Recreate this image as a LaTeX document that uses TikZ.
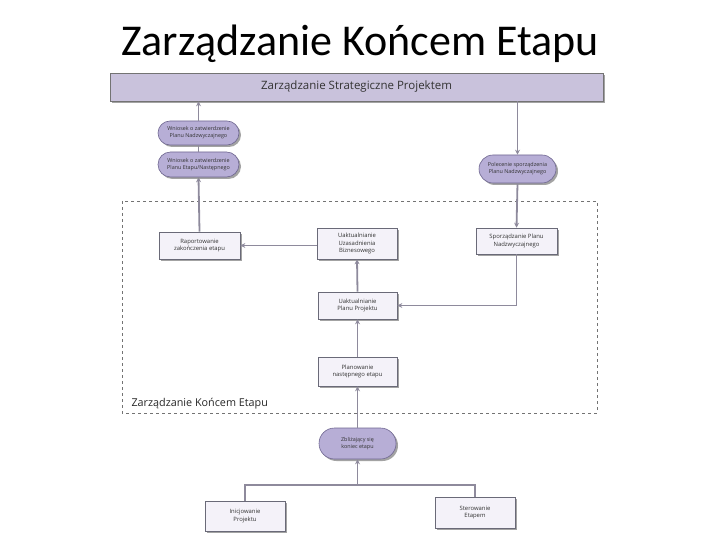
\documentclass[tikz,border=0pt]{standalone}
\usepackage{fontspec}
\setmainfont{Carlito}
\newfontfamily\diag{Open Sans}
\usetikzlibrary{shapes.misc,shadows,arrows.meta}
\definecolor{pillfill}{HTML}{B7AED6}
\definecolor{pilledge}{HTML}{6E6690}
\definecolor{boxfill}{HTML}{F4F2F9}
\definecolor{boxedge}{HTML}{6A6A78}
\definecolor{barfill}{HTML}{C9C2DC}
\definecolor{connc}{HTML}{8E8A9C}
\tikzset{
  shad/.style={drop shadow={shadow xshift=2pt,shadow yshift=-2pt,fill=black!45,opacity=0.8}},
  pill/.style={rounded rectangle,draw=pilledge,line width=0.6pt,fill=pillfill,shad,align=center,
    font=\diag\fontsize{5.4}{7}\selectfont,text=black!80,inner sep=1pt},
  stepbox/.style={rectangle,draw=boxedge,line width=0.6pt,fill=boxfill,shad,align=center,
    font=\diag\fontsize{5.9}{7.6}\selectfont,text=black!80,inner sep=1pt},
  conn/.style={draw=connc,line width=1.8pt},
  arr/.style={conn,-{Stealth[length=5pt,width=5pt]}},
}
\begin{document}
\begin{tikzpicture}[x=1pt,y=-1pt]
\useasboundingbox (0,0) rectangle (720,540);
\node[font=\fontsize{44}{48}\selectfont] (title) at (360,44) {Zarządzanie Końcem Etapu};
\node[rectangle,draw=black!55,line width=0.6pt,fill=barfill,shad,minimum width=493pt,minimum height=28pt,
  font=\diag\fontsize{11.5}{13}\selectfont,text=black!80] (bar) at (356.5,87) {Zarządzanie Strategiczne Projektem};
\draw[dashed,draw=black!55,line width=0.7pt] (122,201) rectangle (597,413);
\node[anchor=west,font=\diag\fontsize{10.8}{13}\selectfont,text=black!85] (lab) at (128,403.5) {Zarządzanie Końcem Etapu};

\node[pill,minimum width=83pt,minimum height=24pt] (w1) at (198.5,133) {Wniosek o zatwierdzenie\\Planu Nadzwyczajnego};
\node[pill,minimum width=83pt,minimum height=25pt] (w2) at (198.5,164.5) {Wniosek o zatwierdzenie\\Planu Etapu/Następnego};
\node[pill,minimum width=79pt,minimum height=28pt] (pol) at (517.5,169) {Polecenie sporządzenia\\Planu Nadzwyczajnego};
\node[stepbox,minimum width=81pt,minimum height=27pt] (rap) at (199.5,245.5) {Raportowanie\\zakończenia etapu};
\node[stepbox,minimum width=80pt,minimum height=31pt] (uzas) at (357,243.5) {Uaktualnianie\\Uzasadnienia\\Biznesowego};
\node[stepbox,minimum width=81pt,minimum height=26pt] (spor) at (516.5,241) {Sporządzanie Planu\\Nadzwyczajnego};
\node[stepbox,minimum width=79pt,minimum height=27pt] (upp) at (357.5,305.5) {Uaktualnianie\\Planu Projektu};
\node[stepbox,minimum width=79pt,minimum height=29pt] (plan) at (357.5,371.5) {Planowanie\\następnego etapu};
\node[pill,minimum width=79pt,minimum height=31pt] (zbl) at (357.5,443.5) {Zbliżający się\\koniec etapu};
\node[stepbox,minimum width=80pt,minimum height=30pt] (ini) at (245,516) {Inicjowanie\\Projektu};
\node[stepbox,minimum width=80pt,minimum height=31pt] (ste) at (475,512.5) {Sterowanie\\Etapem};
\coordinate (j) at (357.5,485);

\draw[arr] (w1.north) -- (w1.north |- bar.south);
\draw[conn] (w2.north) -- (w1.south);
\draw[arr] (rap.north) -- (w2.south);
\draw[arr] (pol.north |- bar.south) -- (pol.north);
\draw[arr] (pol.south) -- (spor.north);
\draw[arr] (uzas.west |- rap.east) -- (rap.east);
\draw[arr] (upp.north) -- (uzas.south);
\draw[arr] (spor.south) -- (spor.south |- upp.east) -- (upp.east);
\draw[arr] (plan.north) -- (upp.south);
\draw[arr] (zbl.north) -- (plan.south);
\draw[conn] (ini.north) -- (ini.north |- j) -- (ste.north |- j) -- (ste.north);
\draw[arr] (j) -- (zbl.south);
\end{tikzpicture}
\end{document}
